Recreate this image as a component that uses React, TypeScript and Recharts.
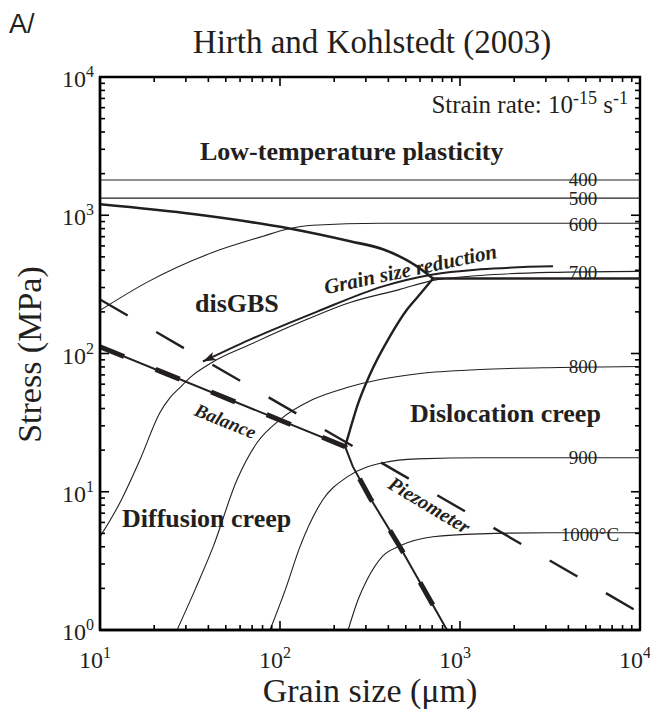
import React from "react";
import { LineChart, Line, XAxis, YAxis, ReferenceArea } from "recharts";

const INK = "#231f20";
const FRAME = "#000000";
const SERIF = '"Liberation Serif", "Times New Roman", serif';

// points are [grain size (um), stress (MPa)]
const iso400 = [[10, 1800], [10000, 1800]];
const iso500 = [[10, 1330], [10000, 1330]];
const iso600 = [[10, 205], [18.2, 327], [42.5, 540], [80.5, 705], [109, 792], [152, 847], [359, 875], [10000, 875]];
const iso700 = [[10, 4.72], [12.9, 8.32], [16.7, 17.1], [21.5, 37.3], [24.5, 48], [27.8, 56.7], [31.6, 67], [41.9, 86.1], [68.1, 116], [129, 168], [245, 234], [464, 291], [708, 338], [1292, 367], [3162, 386], [10000, 393]];
const iso800 = [[26.8, 1], [33.7, 1.95], [42.5, 3.99], [57.7, 12.2], [74.5, 22.6], [100, 33.2], [152, 46.4], [236, 56.7], [359, 64.8], [599, 71.7], [1292, 76.6], [3594, 79.2], [10000, 80.5]];
const iso900 = [[88, 1], [107, 1.95], [129, 3.99], [173, 8.75], [236, 12.8], [373, 16.2], [577, 17.3], [1343, 17.6], [10000, 17.6]];
const iso1000 = [[239, 1], [271, 1.65], [304, 2.3], [373, 3.44], [464, 4.06], [708, 4.72], [1292, 4.96], [3162, 5.05], [10000, 5.05]];

const ltpBoundary = [[10, 1200], [33.7, 1016], [111, 805], [245, 648], [373, 567], [577, 427], [708, 349]];
const ltpDislBoundary = [[708, 349], [10000, 349]];
const disgbsDislBoundary = [[230, 21.2], [245, 28.1], [268, 41.3], [316, 70.5], [408, 133], [508, 208], [599, 268], [708, 349]];
const balance = [[10, 112], [230, 21.2], [254, 15.2], [316, 9.06], [464, 3.99], [847, 1]];
const piezometer = [[10, 246], [10000, 1.33]];
const grainSizeArrow = [[3286, 427], [1292, 406], [708, 373], [373, 306], [161, 201], [68.1, 126], [37.3, 87.5]];

const isoLabels = [
  { text: "400", y: 178 },
  { text: "500", y: 197 },
  { text: "600", y: 223 },
  { text: "700", y: 271 },
  { text: "800", y: 365 },
  { text: "900", y: 456 },
];

const xTicks = [10, 20, 30, 40, 50, 60, 70, 80, 90, 100, 200, 300, 400, 500, 600, 700, 800, 900, 1000, 2000, 3000, 4000, 5000, 6000, 7000, 8000, 9000, 10000];
const yTicks = [1, 2, 3, 4, 5, 6, 7, 8, 9, 10, 20, 30, 40, 50, 60, 70, 80, 90, 100, 200, 300, 400, 500, 600, 700, 800, 900, 1000, 2000, 3000, 4000, 5000, 6000, 7000, 8000, 9000, 10000];
const xMajor = [10, 100, 1000, 10000];
const xMajorExp = ["1", "2", "3", "4"];
const yMajor = [1, 10, 100, 1000, 10000];
const yMajorExp = ["0", "1", "2", "3", "4"];

const rows = (pts: number[][]) => pts.map(([x, y]) => ({ x, y }));

const W = 650;
const H = 706;
const PAGE = 8; // body margin
// plot area: x 92..632, y 69..622 (chart coords)
const margin = { top: 69, right: 18, bottom: 44, left: 52 };
const PLOT_W = 540;
const PLOT_H = 553;

// ticks point inwards and are mirrored on the opposite side of the frame
const BottomTick = (p: any) => {
  const i = xMajor.indexOf(p.payload.value);
  const len = i >= 0 ? 9 : 5;
  const top = p.y - PLOT_H;
  return (
    <g>
      <line x1={p.x} x2={p.x} y1={p.y} y2={p.y - len} stroke={FRAME} strokeWidth={1.6} />
      <line x1={p.x} x2={p.x} y1={top} y2={top + len} stroke={FRAME} strokeWidth={1.6} />
      {i >= 0 && (
        <text x={p.x - 5} y={p.y + 38} textAnchor="middle" fontFamily={SERIF} fontSize={24} fill={INK}>
          10<tspan dy={-10} fontSize={16}>{xMajorExp[i]}</tspan>
        </text>
      )}
    </g>
  );
};

const LeftTick = (p: any) => {
  const i = yMajor.indexOf(p.payload.value);
  const len = i >= 0 ? 9 : 5;
  const right = p.x + PLOT_W;
  return (
    <g>
      <line x1={p.x} x2={p.x + len} y1={p.y} y2={p.y} stroke={FRAME} strokeWidth={1.6} />
      <line x1={right} x2={right - len} y1={p.y} y2={p.y} stroke={FRAME} strokeWidth={1.6} />
      {i >= 0 && (
        <text x={p.x - 6} y={p.y + 10} textAnchor="end" fontFamily={SERIF} fontSize={24} fill={INK}>
          10<tspan dy={-10} fontSize={16}>{yMajorExp[i]}</tspan>
        </text>
      )}
    </g>
  );
};

const arrowHead = (p: any) => {
  if (p.index !== grainSizeArrow.length - 1) return <g key={`a${p.index}`} />;
  return (
    <polygon
      key={`a${p.index}`}
      points="0,0 -13,-4.5 -10,0 -13,4.5"
      fill={INK}
      transform={`translate(${p.cx},${p.cy}) rotate(155)`}
    />
  );
};

// html text placed by its baseline point (x, y) in chart coords; anchor like svg text-anchor
type NoteProps = {
  x: number; y: number; size: number; anchor?: "start" | "middle" | "end"; rotate?: number;
  bold?: boolean; italic?: boolean; family?: string; children: React.ReactNode;
};
const Note = ({ x, y, size, anchor = "start", rotate = 0, bold, italic, family = SERIF, children }: NoteProps) => {
  const boxW = 420;
  const left = anchor === "start" ? x : anchor === "middle" ? x - boxW / 2 : x - boxW;
  const asc = 0.84 * size;
  return (
    <div
      style={{
        position: "absolute", left: left + PAGE, top: y - asc + PAGE, width: boxW,
        textAlign: anchor === "start" ? "left" : anchor === "middle" ? "center" : "right",
        fontFamily: family, fontSize: size, lineHeight: 1, whiteSpace: "nowrap", color: INK,
        fontWeight: bold ? "bold" : "normal", fontStyle: italic ? "italic" : "normal",
        transform: rotate ? `rotate(${rotate}deg)` : undefined, transformOrigin: `${x - left}px ${asc}px`,
        pointerEvents: "none",
      }}
    >
      {children}
    </div>
  );
};

const sup = (size: number, shift: number): React.CSSProperties => ({ fontSize: size, position: "relative", top: -shift });

const thin = { stroke: INK, strokeWidth: 1.1, dot: false, isAnimationActive: false } as const;

export default function App() {
  return (
    <div>
      <LineChart width={W} height={H} margin={margin}>
        <XAxis dataKey="x" type="number" scale="log" domain={[10, 10000]} ticks={xTicks} interval={0}
          tickSize={0} tickMargin={0} height={40} allowDataOverflow
          axisLine={{ stroke: FRAME, strokeWidth: 2.4 }} tickLine={false} tick={BottomTick} />
        <YAxis type="number" scale="log" domain={[1, 10000]} ticks={yTicks} interval={0}
          tickSize={0} tickMargin={0} width={40} allowDataOverflow
          axisLine={{ stroke: FRAME, strokeWidth: 2.4 }} tickLine={false} tick={LeftTick} />

        <Line data={rows(iso400)} dataKey="y" type="linear" {...thin} />
        <Line data={rows(iso500)} dataKey="y" type="linear" {...thin} />
        <Line data={rows(iso600)} dataKey="y" type="monotone" {...thin} />
        <Line data={rows(iso700)} dataKey="y" type="monotone" {...thin} />
        <Line data={rows(iso800)} dataKey="y" type="monotone" {...thin} />
        <Line data={rows(iso900)} dataKey="y" type="monotone" {...thin} />
        <Line data={rows(iso1000)} dataKey="y" type="monotone" {...thin} />

        <Line data={rows(grainSizeArrow)} dataKey="y" type="monotone" stroke={INK} strokeWidth={2}
          dot={arrowHead} isAnimationActive={false} />

        <Line data={rows(piezometer)} dataKey="y" type="linear" stroke={INK} strokeWidth={2.4}
          strokeDasharray="32 33" dot={false} isAnimationActive={false} />

        <Line data={rows(ltpBoundary)} dataKey="y" type="monotone" stroke={INK} strokeWidth={2.6} dot={false} isAnimationActive={false} />
        <Line data={rows(ltpDislBoundary)} dataKey="y" type="linear" stroke={INK} strokeWidth={2.6} dot={false} isAnimationActive={false} />
        <Line data={rows(disgbsDislBoundary)} dataKey="y" type="monotone" stroke={INK} strokeWidth={2.4} dot={false} isAnimationActive={false} />

        <Line data={rows(balance)} dataKey="y" type="linear" stroke={INK} strokeWidth={2} dot={false} isAnimationActive={false} />
        <Line data={rows(balance)} dataKey="y" type="linear" stroke={INK} strokeWidth={5}
          strokeDasharray="26 34" dot={false} isAnimationActive={false} />

        <ReferenceArea x1={10} x2={10000} y1={1} y2={10000} fill="none" stroke={FRAME} strokeWidth={2.4} ifOverflow="visible" />
      </LineChart>

      <Note x={1} y={26} size={27} family='"Liberation Sans", sans-serif'>A/</Note>
      <Note x={364} y={46} size={33} anchor="middle">Hirth and Kohlstedt (2003)</Note>
      <Note x={620} y={105} size={25} anchor="end">
        Strain rate: 10<span style={sup(18, 9)}>-15</span> s<span style={sup(18, 9)}>-1</span>
      </Note>

      <Note x={192} y={153} size={26} bold>Low-temperature plasticity</Note>
      <Note x={187} y={305} size={26} bold>disGBS</Note>
      <Note x={402} y={415} size={26} bold>Dislocation creep</Note>
      <Note x={114} y={520} size={26} bold>Diffusion creep</Note>

      <Note x={215} y={419} size={19} anchor="middle" rotate={22} bold italic>Balance</Note>
      <Note x={418} y={503} size={20} anchor="middle" rotate={31} bold italic>Piezometer</Note>
      <Note x={404} y={269} size={21} anchor="middle" rotate={-12} bold italic>Grain size reduction</Note>

      {isoLabels.map((l) => (
        <Note key={l.text} x={575} y={l.y} size={19} anchor="middle">{l.text}</Note>
      ))}
      <Note x={582} y={533} size={19} anchor="middle">1000°C</Note>

      <Note x={34} y={347} size={34} anchor="middle" rotate={-90}>Stress (MPa)</Note>
      <Note x={362} y={695} size={34} anchor="middle">Grain size (μm)</Note>
    </div>
  );
}
